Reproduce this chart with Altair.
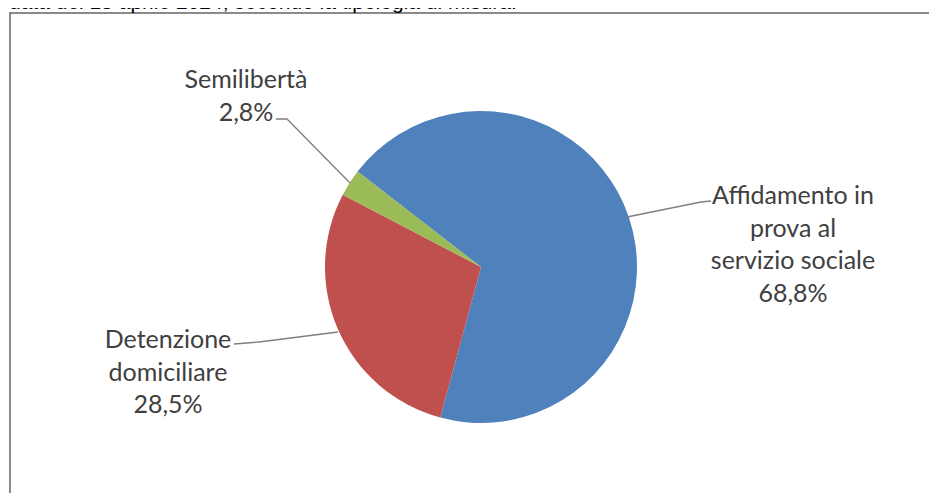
import math
import altair as alt
import pandas as pd

# ---- data ----
categories = ["Affidamento in prova al servizio sociale", "Detenzione domiciliare", "Semilibertà"]
values = [68.8, 28.5, 2.8]
label_lines = [
    ["Affidamento in", "prova al", "servizio sociale", "68,8%"],
    ["Detenzione", "domiciliare", "28,5%"],
    ["Semilibertà", "2,8%"],
]
colors = ["#4F81BD", "#C0504D", "#9BBB59"]
title_text = "data del 15 aprile 2024, secondo la tipologia di misura."

# ---- layout (annotation placement, chart pixel coords) ----
W, H = 921, 485
CX, CY, R = 472, 259, 156
START = math.radians(307.7)
label_pos = [(784, 176), (159, 320), (237, 60)]
leaders = [
    [(702, 193), (692, 194), (618, 209)],
    [(225, 336), (250, 334), (329, 324)],
    [(267, 111), (278, 111), (341, 175)],
]

df = pd.DataFrame({"cat": categories, "value": values, "idx": list(range(len(values)))})
lab_df = pd.DataFrame({
    "text": label_lines,
    "lx": [p[0] for p in label_pos],
    "ly": [p[1] for p in label_pos],
})
lead_rows = []
for g, pts in enumerate(leaders):
    for k, (x, y) in enumerate(pts):
        lead_rows.append({"g": g, "k": k, "x": x, "y": y})
lead_df = pd.DataFrame(lead_rows)
one = pd.DataFrame({"a": [0]})

frame_top = alt.Chart(one).mark_rule(color="#8a8a8a", strokeWidth=2).encode(
    x=alt.value(0), x2=alt.value(W), y=alt.value(5)
)
frame_left = alt.Chart(one).mark_rule(color="#8a8a8a", strokeWidth=2).encode(
    x=alt.value(1), y=alt.value(4), y2=alt.value(H)
)

title = alt.Chart(pd.DataFrame({"t": [title_text]})).mark_text(
    clip=True, align="left", baseline="alphabetic", font="Liberation Sans", fontSize=21, color="#000000"
).encode(x=alt.value(0), y=alt.value(1), text="t:N")

pie = alt.Chart(df).mark_arc(radius=R).encode(
    theta=alt.Theta("value:Q", stack=True, scale=alt.Scale(range=[START, START + 2 * math.pi])),
    color=alt.Color("cat:N", scale=alt.Scale(domain=categories, range=colors), legend=None),
    order=alt.Order("idx:Q"),
    x=alt.value(CX),
    y=alt.value(CY),
)

lead = alt.Chart(lead_df).mark_line(color="#7f7f7f", strokeWidth=1.3).encode(
    x=alt.X("x:Q", scale=None, axis=None),
    y=alt.Y("y:Q", scale=None, axis=None),
    detail="g:N",
    order="k:Q",
)

labels = alt.Chart(lab_df).mark_text(
    align="center", baseline="top", font="Lato", fontSize=25, lineHeight=32.5, color="#404040"
).encode(
    x=alt.X("lx:Q", scale=None, axis=None),
    y=alt.Y("ly:Q", scale=None, axis=None),
    text="text",
)

chart = alt.layer(frame_top, frame_left, title, pie, lead, labels).properties(
    width=W, height=H, padding=0,
    autosize=alt.AutoSizeParams(type="fit", contains="padding"),
).configure_view(stroke=None)

chart.save("out.html", embed_options={"renderer": "svg", "actions": False})
